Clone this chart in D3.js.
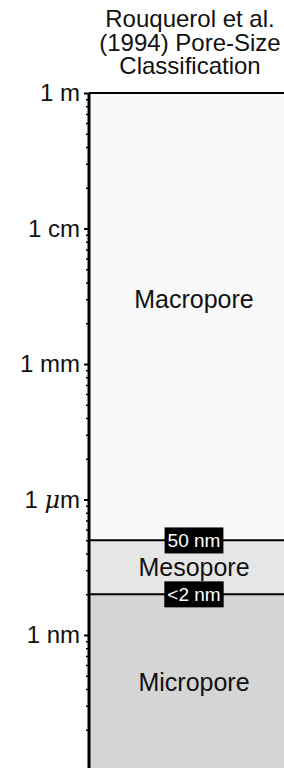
<!DOCTYPE html>
<html>
<head>
<meta charset="utf-8">
<script src="https://cdn.jsdelivr.net/npm/d3@7"></script>
<style>
  body { margin: 0; background: #fff; }
  text { font-family: "Liberation Sans", Arial, sans-serif; fill: #111; }
</style>
</head>
<body>
<div id="chart"></div>
<script>
// axis positions (schematic log axis, one decade per labelled tick)
var tickValues = [1, 1e-1, 1e-2, 1e-3, 1e-4]
var tickLabels = ["1 m", "1 cm", "1 mm", "1 \u03bcm", "1 nm"]

// class bands, top -> bottom, in axis units
var classNames = ["Macropore", "Mesopore", "Micropore"]
var classTops = [1, 5e-4, 2e-4]
var classBottoms = [5e-4, 2e-4, 1e-5]
var classLabelAt = [3e-2, 3.16e-4, 4.47e-5]
var classFills = ["#f9f9f9", "#e6e6e6", "#d5d5d5"]

// boundary markers
var boundaryValues = [5e-4, 2e-4]
var boundaryLabels = ["50 nm", "<2 nm"]

var titleLines = ["Rouquerol et al.", "(1994) Pore-Size", "Classification"]

var width = 284,
    height = 768,
    plotLeft = 89,
    plotRight = 299,
    plotTop = 93,
    plotBottom = 770.5

var svg = d3.select("#chart").append("svg")
  .attr("width", width)
  .attr("height", height)

var y = d3.scaleLog()
  .domain([1, 1e-5])
  .range([plotTop, plotBottom])

var cx = (plotLeft + plotRight) / 2

// --- bands ---
svg.append("g").selectAll("rect")
  .data(classNames)
  .enter().append("rect")
    .attr("x", plotLeft)
    .attr("width", plotRight - plotLeft)
    .attr("y", (d, i) => y(classTops[i]))
    .attr("height", (d, i) => y(classBottoms[i]) - y(classTops[i]))
    .style("fill", (d, i) => classFills[i])

svg.append("g").selectAll("text")
  .data(classNames)
  .enter().append("text")
    .attr("x", cx)
    .attr("y", (d, i) => y(classLabelAt[i]))
    .attr("dy", "0.35em")
    .attr("text-anchor", "middle")
    .style("font-size", "25px")
    .text(d => d)

// top edge + boundaries
svg.append("line")
  .attr("x1", plotLeft).attr("x2", plotRight)
  .attr("y1", y(1)).attr("y2", y(1))
  .style("stroke", "#000").style("stroke-width", 2)

var bnd = svg.append("g").selectAll("g")
  .data(boundaryValues)
  .enter().append("g")

bnd.append("line")
  .attr("x1", plotLeft).attr("x2", plotRight)
  .attr("y1", d => y(d)).attr("y2", d => y(d))
  .style("stroke", "#000").style("stroke-width", 2)

bnd.append("rect")
  .style("fill", "#000")

bnd.append("text")
  .attr("x", cx)
  .attr("y", d => y(d))
  .attr("dy", "0.35em")
  .attr("text-anchor", "middle")
  .style("font-size", "19px")
  .style("fill", "#fff")
  .text((d, i) => boundaryLabels[i])

bnd.each(function() {
  var g = d3.select(this),
      bb = g.select("text").node().getBBox()
  g.select("rect")
    .attr("x", bb.x - 3)
    .attr("y", bb.y - 2.5)
    .attr("width", bb.width + 6)
    .attr("height", bb.height + 5)
})

// --- axis ---
var minorValues = []
tickValues.forEach(v => {
  d3.range(2, 10).forEach(k => minorValues.push(k * v / 10))
})

svg.append("g")
  .attr("transform", `translate(${plotLeft - 1},0)`)
  .call(d3.axisLeft(y).tickValues(minorValues).tickSize(2).tickFormat(""))
  .call(g => g.select(".domain").remove())
  .call(g => g.selectAll("line").style("stroke-width", 1.5))

var yAxis = svg.append("g")
  .attr("transform", `translate(${plotLeft},0)`)
  .call(d3.axisLeft(y).tickValues(tickValues).tickSize(5).tickPadding(4)
    .tickFormat((d, i) => tickLabels[i]))

yAxis.select(".domain")
  .attr("d", `M0,${plotTop}V${height + 5}`)
  .style("stroke-width", 3)
yAxis.selectAll(".tick line").style("stroke-width", 2)
yAxis.selectAll(".tick text")
  .style("font-size", "24px")
  .style("font-family", "Liberation Sans, Arial, sans-serif")
  .style("fill", "#111")
  .each(function(d, i) {
    var t = d3.select(this), lab = tickLabels[i]
    if (lab.indexOf("\u03bc") >= 0) {
      t.text("")
      t.append("tspan").text("1 ")
      t.append("tspan").style("font-style", "italic").style("font-family", "DejaVu Serif, serif").text("\u03bc")
      t.append("tspan").text("m")
    }
  })

// --- title ---
svg.append("text")
  .attr("text-anchor", "middle")
  .style("font-size", "24px")
  .selectAll("tspan")
  .data(titleLines)
  .enter().append("tspan")
    .attr("x", cx - 4)
    .attr("y", (d, i) => 27 + i * 23.5)
    .text(d => d)
</script>
</body>
</html>
